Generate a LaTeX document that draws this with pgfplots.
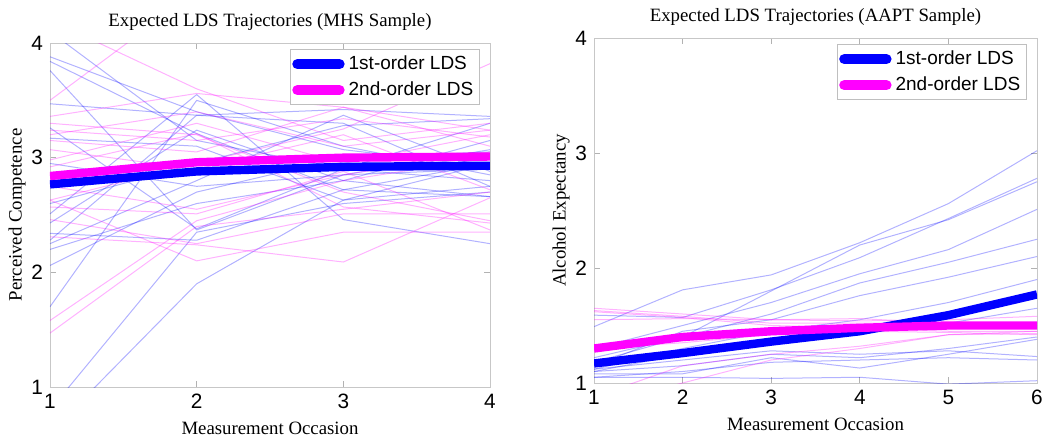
\documentclass[border=0pt]{standalone}
\usepackage{fontspec}
\setmainfont{Liberation Serif}
\setsansfont{Liberation Sans}
\usepackage{pgfplots}
\pgfplotsset{compat=1.18}
\definecolor{mblue}{RGB}{0,0,255}
\definecolor{mmag}{RGB}{255,0,255}
\pgfplotsset{
  thinb/.style={color=mblue, opacity=0.3, line width=0.5pt, forget plot},
  thinm/.style={color=mmag, opacity=0.3, line width=0.5pt, forget plot},
  thickb/.style={color=mblue, line width=4.2pt, forget plot},
  thickm/.style={color=mmag, line width=4.2pt, forget plot},
  lds/.style={
    scale only axis, anchor=south west,
    axis line style={draw=black!22},
    tick style={draw=black!30, line width=0.4pt},
    major tick length=3pt,
    tick align=inside,
    ymin=1, ymax=4, ytick={1,2,3,4},
    tick label style={font=\fontsize{10.4}{11}\selectfont\sffamily},
    /pgf/number format/assume math mode=true,
    label style={font=\fontsize{9.4}{10}\selectfont},
    ylabel style={yshift=-4pt},
    title style={font=\fontsize{9.4}{10}\selectfont, yshift=-3.5pt},
    legend cell align=left,
    legend style={font=\fontsize{9.5}{10}\selectfont\sffamily, draw=black!25, line width=0.6pt,
      inner xsep=1pt, inner ysep=1pt, row sep=0.6pt, anchor=north east},
    legend image code/.code={\draw[#1,line cap=round] (0pt,0pt) -- (21pt,0pt);},
  }
}
\begin{document}
\begin{tikzpicture}
\path[use as bounding box] (0pt,0pt) rectangle (525pt,-219.5pt);
% ---------------- Left panel ----------------
\begin{axis}[lds, at={(25pt,-193.5pt)}, width=220pt, height=172pt,
  xmin=1, xmax=4, xtick={1,2,3,4},
  title={Expected LDS Trajectories (MHS Sample)},
  xlabel={Measurement Occasion}, ylabel={Perceived Competence},
  legend style={at={(rel axis cs:0.977,0.982)}}]
% thin blue
\addplot[thinb] coordinates {(1,3.88) (2,3.40) (3,3.07) (4,2.92)};
\addplot[thinb] coordinates {(1,3.84) (2,3.21) (3,2.72) (4,2.66)};
\addplot[thinb] coordinates {(1,3.76) (2,2.37) (3,2.85) (4,3.07)};
\addplot[thinb] coordinates {(1,3.47) (2,3.37) (3,3.42) (4,3.36)};
\addplot[thinb] coordinates {(1,3.26) (2,2.38) (3,2.90) (4,3.30)};
\addplot[thinb] coordinates {(1,3.17) (2,3.10) (3,2.63) (4,2.75)};
\addplot[thinb] coordinates {(1,2.51) (2,3.55) (3,2.46) (4,2.25)};
\addplot[thinb] coordinates {(1,2.43) (2,3.24) (3,2.80) (4,3.15)};
\addplot[thinb] coordinates {(1,2.34) (2,2.28) (3,2.72) (4,2.95)};
\addplot[thinb] coordinates {(1,2.28) (2,3.37) (3,3.30) (4,2.75)};
\addplot[thinb] coordinates {(1,2.25) (2,2.80) (3,3.37) (4,2.88)};
\addplot[thinb] coordinates {(1,2.20) (2,2.60) (3,2.80) (4,2.66)};
\addplot[thinb] coordinates {(1,2.06) (2,2.70) (3,3.00) (4,3.05)};
\addplot[thinb] coordinates {(1,1.70) (2,3.50) (3,3.10) (4,2.85)};
\addplot[thinb] coordinates {(1,0.80) (2,2.35) (3,2.60) (4,2.70)};
\addplot[thinb] coordinates {(1,0.60) (2,1.90) (3,2.63) (4,2.95)};
\addplot[thinb] coordinates {(1,4.10) (2,3.15) (3,2.90) (4,2.80)};
\addplot[thinb] coordinates {(1,2.95) (2,2.75) (3,2.85) (4,2.90)};
\addplot[thinb] coordinates {(1,2.60) (2,2.95) (3,3.28) (4,3.34)};
% thin magenta
\addplot[thinm] coordinates {(1,3.50) (2,4.45) (3,4.60) (4,4.30)};
\addplot[thinm] coordinates {(1,3.36) (2,3.56) (3,3.44) (4,3.24)};
\addplot[thinm] coordinates {(1,2.63) (2,2.95) (3,3.25) (4,3.82)};
\addplot[thinm] coordinates {(1,3.24) (2,3.15) (3,3.34) (4,3.18)};
\addplot[thinm] coordinates {(1,3.20) (2,3.40) (3,3.10) (4,3.24)};
\addplot[thinm] coordinates {(1,3.15) (2,3.05) (3,3.44) (4,3.10)};
\addplot[thinm] coordinates {(1,3.07) (2,2.90) (3,3.20) (4,2.72)};
\addplot[thinm] coordinates {(1,2.98) (2,3.30) (3,2.95) (4,3.20)};
\addplot[thinm] coordinates {(1,2.92) (2,3.21) (3,2.57) (4,2.43)};
\addplot[thinm] coordinates {(1,2.57) (2,2.51) (3,2.88) (4,2.37)};
\addplot[thinm] coordinates {(1,2.46) (2,2.25) (3,2.51) (4,2.51)};
\addplot[thinm] coordinates {(1,2.31) (2,2.24) (3,2.09) (4,2.65)};
\addplot[thinm] coordinates {(1,2.63) (2,2.10) (3,2.35) (4,2.35)};
\addplot[thinm] coordinates {(1,1.58) (2,2.45) (3,2.80) (4,3.00)};
\addplot[thinm] coordinates {(1,1.47) (2,2.40) (3,2.55) (4,2.70)};
\addplot[thinm] coordinates {(1,4.20) (2,3.60) (3,3.15) (4,3.30)};
\addplot[thinm] coordinates {(1,2.75) (2,2.55) (3,2.85) (4,3.05)};
\addplot[thinm] coordinates {(1,3.30) (2,3.20) (3,2.70) (4,2.45)};
% expected trajectories
\addplot[thickb] coordinates {(1,2.767) (2,2.88) (3,2.92) (4,2.93)};
\addplot[thickm] coordinates {(1,2.84) (2,2.96) (3,3.00) (4,3.01)};
\addlegendimage{mblue, line width=5.2pt}
\addlegendentry{1st-order LDS}
\addlegendimage{mmag, line width=5.2pt}
\addlegendentry{2nd-order LDS}
\end{axis}
% ---------------- Right panel ----------------
\begin{axis}[lds, at={(297pt,-191.5pt)}, width=221.5pt, height=172.5pt,
  xmin=1, xmax=6, xtick={1,2,3,4,5,6},
  title={Expected LDS Trajectories (AAPT Sample)},
  xlabel={Measurement Occasion}, ylabel={Alcohol Expectancy},
  legend style={at={(rel axis cs:0.977,0.982)}}]
% thin blue
\addplot[thinb] coordinates {(1,1.49) (2,1.81) (3,1.94) (4,2.22) (5,2.56) (6,3.02)};
\addplot[thinb] coordinates {(1,1.59) (2,1.57) (3,1.81) (4,2.09) (5,2.43) (6,2.78)};
\addplot[thinb] coordinates {(1,1.22) (2,1.40) (3,1.80) (4,2.20) (5,2.42) (6,2.75)};
\addplot[thinb] coordinates {(1,1.30) (2,1.50) (3,1.70) (4,1.95) (5,2.16) (6,2.51)};
\addplot[thinb] coordinates {(1,1.18) (2,1.40) (3,1.60) (4,1.87) (5,2.05) (6,2.25)};
\addplot[thinb] coordinates {(1,1.15) (2,1.45) (3,1.55) (4,1.76) (5,1.92) (6,2.10)};
\addplot[thinb] coordinates {(1,1.12) (2,1.30) (3,1.45) (4,1.55) (5,1.70) (6,1.90)};
\addplot[thinb] coordinates {(1,1.10) (2,1.25) (3,1.35) (4,1.45) (5,1.52) (6,1.65)};
\addplot[thinb] coordinates {(1,1.08) (2,1.08) (3,1.22) (4,1.13) (5,1.25) (6,1.38)};
\addplot[thinb] coordinates {(1,1.05) (2,1.10) (3,1.18) (4,1.20) (5,1.22) (6,1.20)};
\addplot[thinb] coordinates {(1,1.05) (2,1.05) (3,1.04) (4,1.05) (5,0.99) (6,1.02)};
\addplot[thinb] coordinates {(1,1.10) (2,1.15) (3,1.25) (4,1.22) (5,1.30) (6,1.40)};
\addplot[thinb] coordinates {(1,1.12) (2,1.20) (3,1.28) (4,1.25) (5,1.28) (6,1.23)};
% thin magenta
\addplot[thinm] coordinates {(1,1.65) (2,1.60) (3,1.55) (4,1.54) (5,1.55) (6,1.58)};
\addplot[thinm] coordinates {(1,1.63) (2,1.58) (3,1.52) (4,1.52) (5,1.52) (6,1.50)};
\addplot[thinm] coordinates {(1,1.55) (2,1.56) (3,1.55) (4,1.56) (5,1.52) (6,1.52)};
\addplot[thinm] coordinates {(1,1.62) (2,1.57) (3,1.50) (4,1.48) (5,1.45) (6,1.45)};
\addplot[thinm] coordinates {(1,0.88) (2,1.15) (3,1.25) (4,1.32) (5,1.42) (6,1.45)};
\addplot[thinm] coordinates {(1,0.80) (2,1.00) (3,1.20) (4,1.30) (5,1.42) (6,1.43)};
\addplot[thinm] coordinates {(1,1.30) (2,1.35) (3,1.42) (4,1.45) (5,1.44) (6,1.42)};
% expected trajectories
\addplot[thickb] coordinates {(1,1.17) (2,1.26) (3,1.36) (4,1.45) (5,1.59) (6,1.77)};
\addplot[thickm] coordinates {(1,1.30) (2,1.40) (3,1.45) (4,1.48) (5,1.50) (6,1.50)};
\addlegendimage{mblue, line width=5.2pt}
\addlegendentry{1st-order LDS}
\addlegendimage{mmag, line width=5.2pt}
\addlegendentry{2nd-order LDS}
\end{axis}
\end{tikzpicture}
\end{document}
